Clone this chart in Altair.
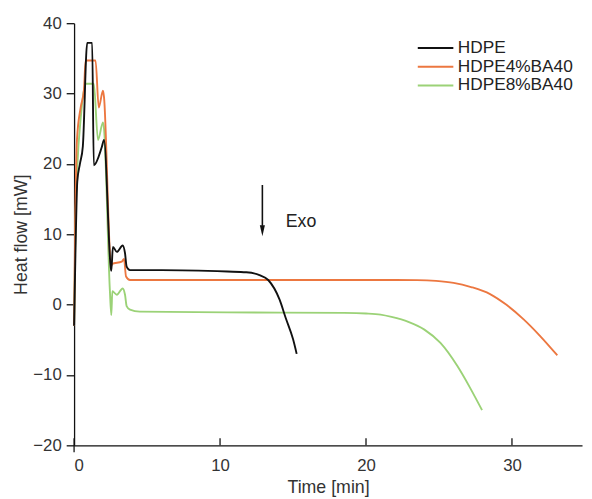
import altair as alt
import pandas as pd

# ---- data ----
series_names = ["HDPE", "HDPE4%BA40", "HDPE8%BA40"]
series_colors = ["#111111", "#ec7740", "#9bd277"]

hdpe_t = [0, 0.1, 0.22, 0.4, 0.6, 0.9, 1.24, 1.35, 1.9, 2.05, 2.5, 2.55, 2.66, 2.93, 3.33, 3.49, 3.6, 3.83,
          6, 10.5, 11.8, 12.7, 13.3, 14.08, 14.5, 15.0, 15.25]
hdpe_v = [-3, 8, 17.5, 20, 22.5, 37.2, 37.2, 19.8, 22.4, 23.4, 5.5, 4.8, 8.2, 7.5, 8.4, 7.3, 5.4, 4.9,
          4.9, 4.7, 4.6, 4.2, 3.5, 0.7, -1.9, -4.9, -7.0]

ba4_t = [0, 0.08, 0.2, 0.45, 0.68, 0.79, 1.47, 1.69, 1.98, 2.05, 2.48, 2.55, 2.6, 3.27, 3.42, 3.56, 3.83,
         10, 20, 23.5, 24.8, 26.0, 27.2, 28.5, 29.6, 30.8, 31.9, 33.1]
ba4_v = [-3, 12, 23.5, 28, 30.6, 34.7, 34.7, 28, 30.4, 29.5, 6.6, 5.5, 5.8, 6.1, 6.5, 4.0, 3.5,
         3.5, 3.5, 3.48, 3.38, 3.1, 2.5, 1.5, 0, -2.1, -4.4, -7.2]

ba8_t = [0, 0.1, 0.23, 0.45, 0.79, 1.35, 1.64, 1.98, 2.05, 2.45, 2.55, 2.62, 2.93, 3.33, 3.49, 3.6, 3.83,
         4.5, 10.5, 18.5, 20.0, 21.0, 21.75, 22.9, 24.0, 25.1, 26.25, 27.15, 27.95]
ba8_v = [-3, 12, 19.9, 26.4, 31.4, 31.4, 23.4, 25.9, 25.0, 2.1, -1.5, 1.9, 1.4, 2.3, 1.4, -0.2, -0.7,
         -1.0, -1.1, -1.18, -1.26, -1.42, -1.75, -2.45, -3.55, -5.45, -8.7, -11.9, -15.0]

x_ticks = [0, 10, 20, 30]
y_ticks = [-20, -10, 0, 10, 20, 30, 40]
x_domain = [0, 34.8]
y_domain = [-20, 40]

arrow_t = [12.9]
arrow_top = [17.0]
arrow_bottom = [11.2]
arrow_head = [10.5]
exo_t = [14.5]
exo_v = [11.8]
exo_label = ["Exo"]

FONT = "Liberation Sans"

def frame(t, v, name):
    return pd.DataFrame({"t": t, "v": v, "series": name})

df_black = frame(hdpe_t, hdpe_v, series_names[0])
df_orange = frame(ba4_t, ba4_v, series_names[1])
df_green = frame(ba8_t, ba8_v, series_names[2])

xscale = alt.Scale(domain=x_domain, nice=False, zero=False)
yscale = alt.Scale(domain=y_domain, nice=False, zero=False)
cscale = alt.Scale(domain=series_names, range=series_colors)

xaxis = alt.Axis(values=x_ticks, title="Time [min]", tickSize=0, labelPadding=13,
                 labelFontSize=17, titleFontSize=18, titlePadding=5, grid=False,
                 domainColor="#111", domainWidth=1.3, labelColor="#333", titleColor="#333",
                 labelFont=FONT, titleFont=FONT, titleFontWeight="normal")
yaxis = alt.Axis(values=y_ticks, title="Heat flow [mW]", tickSize=8, tickColor="#111", tickWidth=1.3,
                 labelPadding=5, labelFontSize=17, titleFontSize=18, titlePadding=2, grid=False,
                 domainColor="#111", domainWidth=1.3, labelColor="#333", titleColor="#333",
                 labelFont=FONT, titleFont=FONT, titleFontWeight="normal")

legend = alt.Legend(title=None, orient="none", legendX=347, legendY=16, symbolType="stroke",
                    symbolSize=1300, symbolStrokeWidth=2, clipHeight=18.3, rowPadding=0, padding=0,
                    labelFontSize=17.5, labelFont=FONT, labelColor="#222", labelOffset=3)

X = lambda f: alt.X(f, scale=xscale, axis=xaxis)
Y = lambda f: alt.Y(f, scale=yscale, axis=yaxis)

def line(df):
    return alt.Chart(df).mark_line(strokeWidth=1.9, interpolate="monotone").encode(
        x=X("t:Q"), y=Y("v:Q"),
        color=alt.Color("series:N", scale=cscale, legend=legend),
    )

# inward x-axis ticks (the one at 0 also continues the y axis a little below)
tick_df = pd.DataFrame({"t": x_ticks,
                        "lo": [y_domain[0] - (1.0 if t == 0 else 0.0) for t in x_ticks],
                        "hi": [y_domain[0] + 1.0] * len(x_ticks)})
ticks = alt.Chart(tick_df).mark_rule(color="#111", strokeWidth=1.3).encode(
    x=X("t:Q"), y=Y("lo:Q"), y2="hi:Q")

arrow_df = pd.DataFrame({"t": arrow_t, "top": arrow_top, "bot": arrow_bottom, "head": arrow_head})
arrow_line = alt.Chart(arrow_df).mark_rule(color="#111", strokeWidth=1.6).encode(
    x=X("t:Q"), y=Y("top:Q"), y2="bot:Q")
arrow_tip = alt.Chart(arrow_df).mark_point(shape="M-0.45,-1L0.45,-1L0,1Z", filled=True, size=130,
                                           color="#111", opacity=1).encode(
    x=X("t:Q"), y=Y("head:Q"))
exo_df = pd.DataFrame({"t": exo_t, "v": exo_v, "label": exo_label})
exo = alt.Chart(exo_df).mark_text(align="left", baseline="middle", fontSize=18, font=FONT,
                                  color="#222").encode(
    x=X("t:Q"), y=Y("v:Q"), text="label:N")

chart = alt.layer(
    line(df_green), line(df_orange), line(df_black),
    ticks, arrow_line, arrow_tip, exo,
).properties(
    width=515, height=428,
    autosize=alt.AutoSizeParams(type="none"),
    padding={"left": 67, "top": 12, "right": 2, "bottom": 51},
    background="white",
).configure_view(stroke=None)

chart.save("out.html", embed_options={"renderer": "svg", "actions": False})
